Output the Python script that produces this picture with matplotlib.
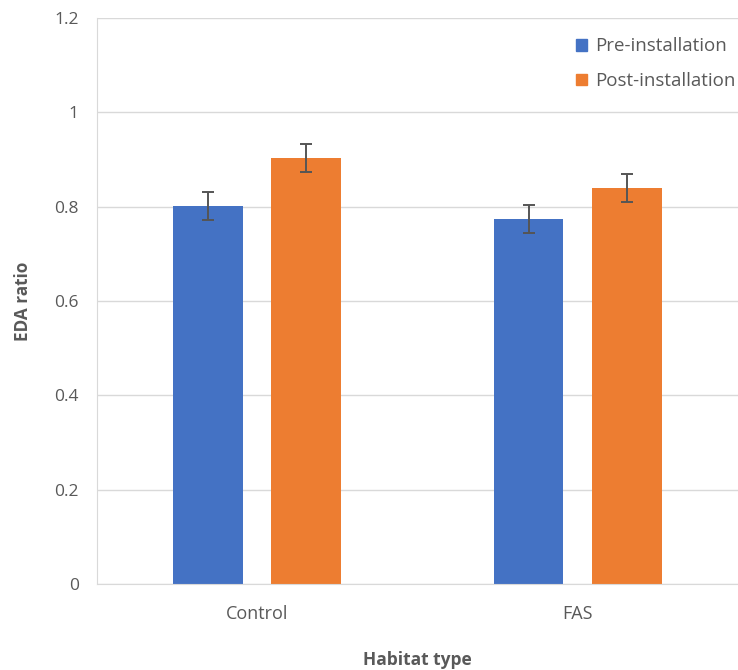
import matplotlib
matplotlib.use('Agg')
import matplotlib.pyplot as plt
import numpy as np
from matplotlib.patches import Patch

plt.rcParams['font.family'] = ['Open Sans', 'DejaVu Sans']

# data
habitats = ['Control', 'FAS']
pre_vals = [0.801, 0.774]
post_vals = [0.903, 0.839]
pre_err = [0.030, 0.030]
post_err = [0.029, 0.030]
yticks = [0, 0.2, 0.4, 0.6, 0.8, 1.0, 1.2]
ytick_labels = ['0', '0.2', '0.4', '0.6', '0.8', '1', '1.2']

blue = '#4472C4'
orange = '#ED7D31'
txt = '#595959'
grid = '#D9D9D9'

fig = plt.figure(figsize=(7.38, 6.70), dpi=100)
ax = fig.add_axes([0.1314, 0.1284, 0.8686, 0.8446])

x = np.arange(len(habitats))
w = 0.218
off = 0.1535

ax.bar(x - off, pre_vals, w, color=blue, zorder=2)
ax.bar(x + off, post_vals, w, color=orange, zorder=2)
ax.errorbar(x - off, pre_vals, yerr=pre_err, fmt='none', ecolor='#555555',
            elinewidth=1.4, capsize=4, capthick=1.4, zorder=3)
ax.errorbar(x + off, post_vals, yerr=post_err, fmt='none', ecolor='#555555',
            elinewidth=1.4, capsize=4, capthick=1.4, zorder=3)

ax.set_xlim(-0.5, 1.5)
ax.set_ylim(0, 1.2)
ax.set_yticks(yticks)
ax.set_yticklabels(ytick_labels)
ax.set_xticks(x)
ax.set_xticklabels(habitats)
ax.tick_params(axis='both', length=0, colors=txt)
ax.tick_params(axis='y', pad=13, labelsize=12.5)
ax.tick_params(axis='x', pad=15, labelsize=13)

ax.yaxis.grid(True, color=grid, linewidth=1, zorder=0)
ax.set_axisbelow(True)
for s in ['top', 'right']:
    ax.spines[s].set_visible(False)
ax.spines['left'].set_color(grid)
ax.spines['bottom'].set_color(grid)

ax.set_ylabel('EDA ratio', fontsize=12.3, fontweight='bold', color=txt, labelpad=16)
ax.set_xlabel('Habitat type', fontsize=12.5, fontweight='bold', color=txt, labelpad=20)

handles = [Patch(color=blue, label='Pre-installation'),
           Patch(color=orange, label='Post-installation')]
leg = ax.legend(handles=handles, loc='upper right', bbox_to_anchor=(1.023, 0.996),
                frameon=False, fontsize=13.5, handlelength=0.6, handleheight=0.6,
                handletextpad=0.45, labelspacing=0.9, labelcolor=txt)

plt.savefig('out.png', dpi=100, facecolor='white')
